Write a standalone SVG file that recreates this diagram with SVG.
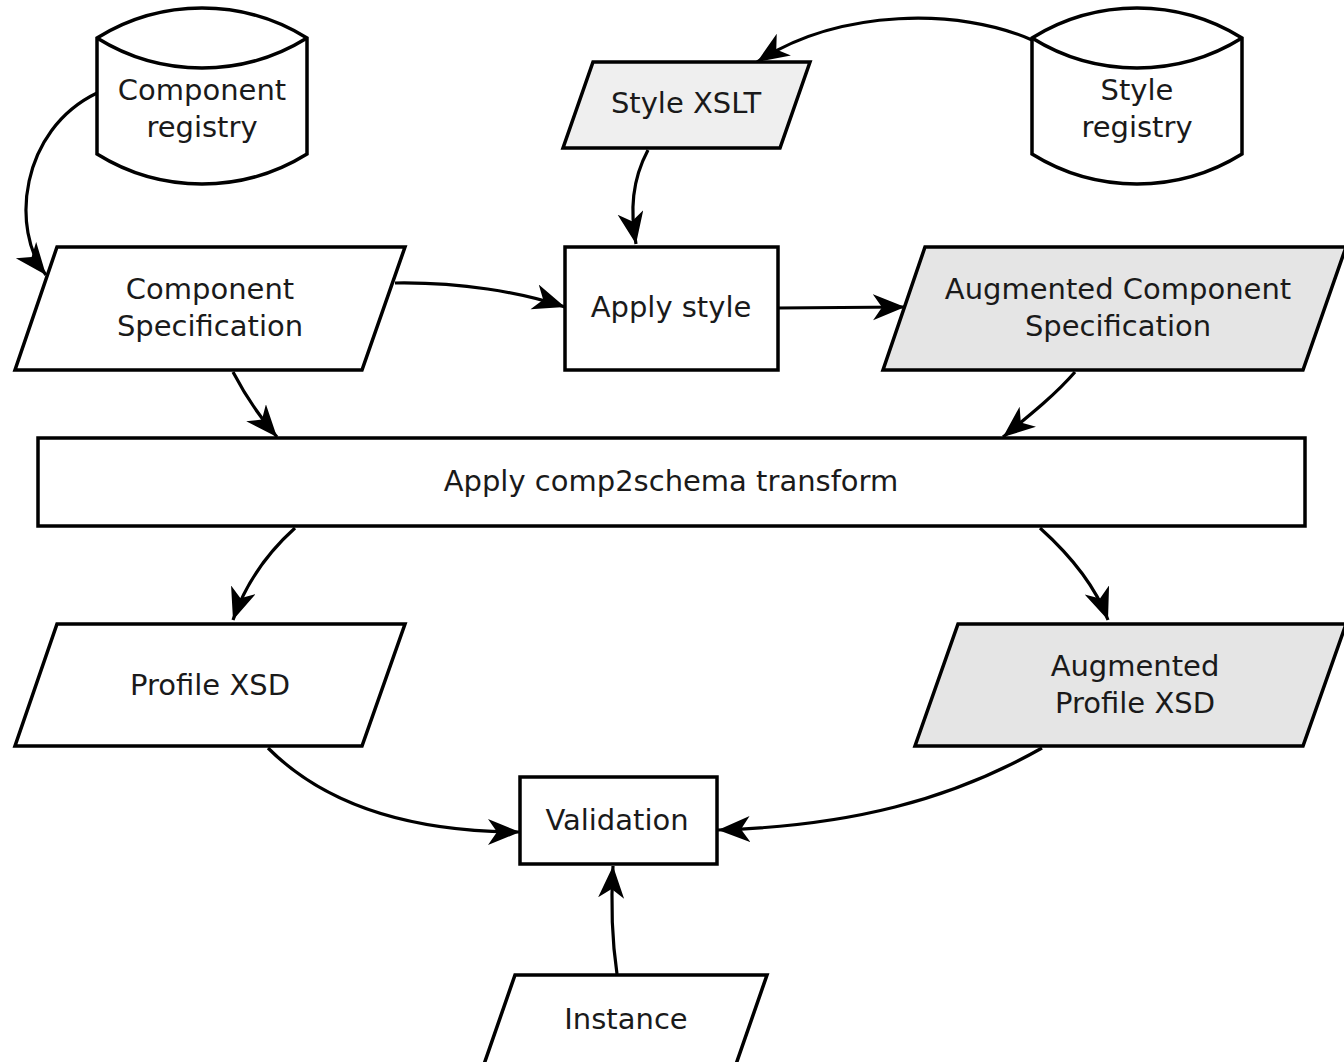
<svg xmlns="http://www.w3.org/2000/svg" width="1344" height="1062" viewBox="0 0 1344 1062">
<style>
.s{stroke:#000;stroke-width:3.5;stroke-linejoin:miter}
.w{fill:#fff}
.g1{fill:#efefef}
.g2{fill:#e5e5e5}
.t{font-family:"DejaVu Sans",sans-serif;font-size:29px;fill:#1a1a1a;text-anchor:middle}
.c{fill:none;stroke:#000;stroke-width:3.2;marker-end:url(#ah)}
</style>
<defs>
<marker id="ah" markerUnits="userSpaceOnUse" markerWidth="36" markerHeight="30" refX="32" refY="13" orient="auto">
<path d="M32,13 L0,0 L9,13 L0,26 Z" fill="#000"/>
</marker>
</defs>
<rect width="1344" height="1062" fill="#fff"/>
<g id="connectors">
<path class="c" d="M97,93 C20,130 10,230 46,275"/>
<path class="c" d="M1032,40 C960,8 840,8 757,62"/>
<path class="c" d="M648,150 C632,180 630,210 636,244"/>
<path class="c" d="M395,283 C460,282 520,292 565,307"/>
<path class="c" d="M778,308 L905,307"/>
<path class="c" d="M233,372 C245,395 258,415 277,437"/>
<path class="c" d="M1075,372 C1055,395 1030,415 1003,437"/>
<path class="c" d="M295,528 C265,555 245,585 233,620"/>
<path class="c" d="M1040,528 C1070,555 1095,585 1108,620"/>
<path class="c" d="M268,748 C320,800 400,832 520,832"/>
<path class="c" d="M1042,748 C950,800 850,826 718,830"/>
<path class="c" d="M617,974 C612,940 611,900 613,866"/>
</g>
<g id="component-registry">
<path class="s w" d="M97,38 A199,199 0 0 1 307,38 L307,154 A199,199 0 0 1 97,154 Z"/>
<path class="s" fill="none" d="M97,38 A199,199 0 0 0 307,38"/>
<text class="t" x="202" y="100">Component</text>
<text class="t" x="202" y="137">registry</text>
</g>
<g id="style-registry">
<path class="s w" d="M1032,38 A199,199 0 0 1 1242,38 L1242,154 A199,199 0 0 1 1032,154 Z"/>
<path class="s" fill="none" d="M1032,38 A199,199 0 0 0 1242,38"/>
<text class="t" x="1137" y="100">Style</text>
<text class="t" x="1137" y="137">registry</text>
</g>
<g id="style-xslt">
<polygon class="s g1" points="593,62 810,62 780,148 563,148"/>
<text class="t" x="686" y="113">Style XSLT</text>
</g>
<g id="component-specification">
<polygon class="s w" points="57,247 405,247 362,370 15,370"/>
<text class="t" x="210" y="299">Component</text>
<text class="t" x="210" y="336">Specification</text>
</g>
<g id="apply-style">
<rect class="s w" x="565" y="247" width="213" height="123"/>
<text class="t" x="671" y="317">Apply style</text>
</g>
<g id="augmented-component-specification">
<polygon class="s g2" points="925,247 1346,247 1303,370 883,370"/>
<text class="t" x="1118" y="299">Augmented Component</text>
<text class="t" x="1118" y="336">Specification</text>
</g>
<g id="apply-comp2schema">
<rect class="s w" x="38" y="438" width="1267" height="88"/>
<text class="t" x="671" y="491">Apply comp2schema transform</text>
</g>
<g id="profile-xsd">
<polygon class="s w" points="57,624 405,624 362,746 15,746"/>
<text class="t" x="210" y="695">Profile XSD</text>
</g>
<g id="augmented-profile-xsd">
<polygon class="s g2" points="958,624 1346,624 1303,746 915,746"/>
<text class="t" x="1135" y="676">Augmented</text>
<text class="t" x="1135" y="713">Profile XSD</text>
</g>
<g id="validation">
<rect class="s w" x="520" y="777" width="197" height="87"/>
<text class="t" x="617" y="830">Validation</text>
</g>
<g id="instance">
<polygon class="s w" points="515,975 767,975 734,1070 482,1070"/>
<text class="t" x="626" y="1029">Instance</text>
</g>
</svg>
